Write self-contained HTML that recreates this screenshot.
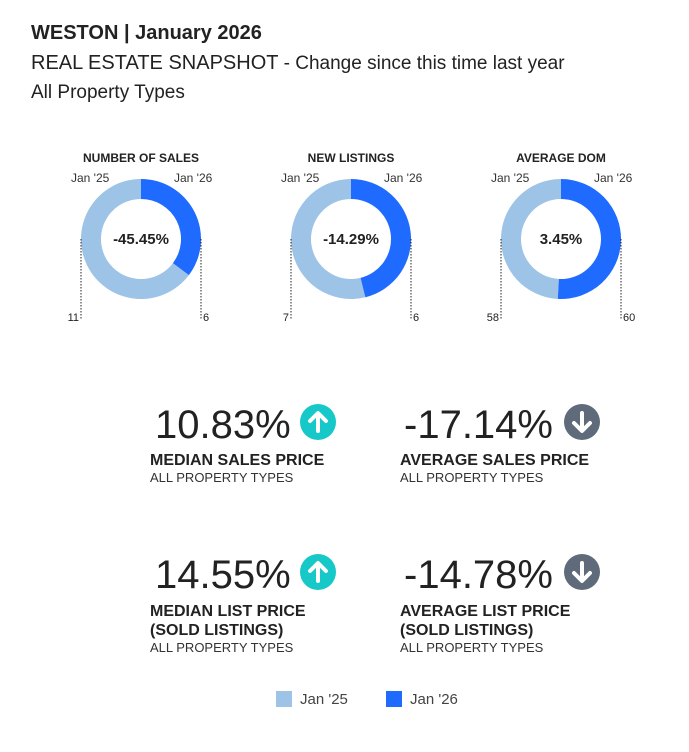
<!DOCTYPE html>
<html><head><meta charset="utf-8">
<style>
body{margin:0;width:689px;height:752px;background:#fff;font-family:"Liberation Sans",sans-serif;color:#222;position:relative;overflow:hidden}
.abs{position:absolute;white-space:nowrap}
.big{font-size:40px;color:#222}
.lbl{font-size:16px;font-weight:bold;color:#222}
.sub{font-size:13px;color:#333}
</style></head><body>
<div class="abs" style="left:31px;top:22px;font-size:20px;font-weight:bold">WESTON | January 2026</div>
<div class="abs" style="left:31px;top:52px;font-size:20px">REAL ESTATE SNAPSHOT <span style="font-size:19px">- Change since this time last year</span></div>
<div class="abs" style="left:31px;top:82px;font-size:19px">All Property Types</div>

<svg id="donuts" width="689" height="340" style="position:absolute;left:0;top:0"></svg>

<div class="abs big" style="left:155px;top:403px">10.83%</div>
<svg class="abs" style="left:300px;top:404px" width="36" height="36"><circle cx="18" cy="18" r="18" fill="#16c8c8"/><path d="M18 27V10M10 17l8-8 8 8" stroke="#fff" stroke-width="4" fill="none" stroke-linecap="round" stroke-linejoin="round"/></svg>
<div class="abs lbl" style="left:150px;top:452px">MEDIAN SALES PRICE</div>
<div class="abs sub" style="left:150px;top:470px">ALL PROPERTY TYPES</div>

<div class="abs big" style="left:404px;top:403px">-17.14%</div>
<svg class="abs" style="left:564px;top:404px" width="36" height="36"><circle cx="18" cy="18" r="18" fill="#5f6b7a"/><path d="M18 9v17M10 19l8 8 8-8" stroke="#fff" stroke-width="4" fill="none" stroke-linecap="round" stroke-linejoin="round"/></svg>
<div class="abs lbl" style="left:400px;top:452px">AVERAGE SALES PRICE</div>
<div class="abs sub" style="left:400px;top:470px">ALL PROPERTY TYPES</div>

<div class="abs big" style="left:155px;top:553px">14.55%</div>
<svg class="abs" style="left:300px;top:554px" width="36" height="36"><circle cx="18" cy="18" r="18" fill="#16c8c8"/><path d="M18 27V10M10 17l8-8 8 8" stroke="#fff" stroke-width="4" fill="none" stroke-linecap="round" stroke-linejoin="round"/></svg>
<div class="abs lbl" style="left:150px;top:602px;line-height:19px">MEDIAN LIST PRICE<br>(SOLD LISTINGS)</div>
<div class="abs sub" style="left:150px;top:640px">ALL PROPERTY TYPES</div>

<div class="abs big" style="left:404px;top:553px">-14.78%</div>
<svg class="abs" style="left:564px;top:554px" width="36" height="36"><circle cx="18" cy="18" r="18" fill="#5f6b7a"/><path d="M18 9v17M10 19l8 8 8-8" stroke="#fff" stroke-width="4" fill="none" stroke-linecap="round" stroke-linejoin="round"/></svg>
<div class="abs lbl" style="left:400px;top:602px;line-height:19px">AVERAGE LIST PRICE<br>(SOLD LISTINGS)</div>
<div class="abs sub" style="left:400px;top:640px">ALL PROPERTY TYPES</div>

<div class="abs" style="left:276px;top:691px;font-size:15px;color:#444"><span style="display:inline-block;width:16px;height:16px;background:#9dc3e6;vertical-align:-3px;margin-right:8px"></span>Jan '25</div>
<div class="abs" style="left:386px;top:691px;font-size:15px;color:#444"><span style="display:inline-block;width:16px;height:16px;background:#1f6bff;vertical-align:-3px;margin-right:8px"></span>Jan '26</div>

<script>
const titles=["NUMBER OF SALES","NEW LISTINGS","AVERAGE DOM"];
const prevVals=[11,7,58];
const currVals=[6,6,60];
const changes=["-45.45%","-14.29%","3.45%"];
const NS="http://www.w3.org/2000/svg";
const svg=document.getElementById('donuts');
function mk(t,a){const e=document.createElementNS(NS,t);for(const k in a)e.setAttribute(k,a[k]);svg.appendChild(e);return e;}
function pt(cx,cy,r,f){const a=f*2*Math.PI-Math.PI/2;return [cx+r*Math.cos(a),cy+r*Math.sin(a)];}
function arc(cx,cy,R,r,f0,f1){const l=(f1-f0)>0.5?1:0;const a=pt(cx,cy,R,f0),b=pt(cx,cy,R,f1),c=pt(cx,cy,r,f1),d=pt(cx,cy,r,f0);
return `M${a}A${R},${R} 0 ${l} 1 ${b}L${c}A${r},${r} 0 ${l} 0 ${d}Z`;}
const R=60,r=40,cy=239;
titles.forEach((t,i)=>{
 const cx=141+i*210;const tot=prevVals[i]+currVals[i];const f=currVals[i]/tot;
 let e=mk('text',{x:cx,y:162,'text-anchor':'middle','font-size':12,'font-weight':'bold',fill:'#222'});e.textContent=t;
 
 
 e=mk('text',{x:cx-70,y:182,'font-size':12,fill:'#333'});e.textContent="Jan '25";
 
 
 e=mk('text',{x:cx+33,y:182,'font-size':12,fill:'#333'});e.textContent="Jan '26";
 
 
 e=mk('path',{d:arc(cx,cy,R,r,f,1),fill:'#9dc3e6'});
 
 
 e=mk('path',{d:arc(cx,cy,R,r,0,f),fill:'#1f6bff'});
 
 
 e=mk('text',{x:cx,y:cy+5,'text-anchor':'middle','font-size':15,'font-weight':'bold',fill:'#222'});e.textContent=changes[i];
 
 
 mk('line',{x1:cx-R,y1:cy,x2:cx-R,y2:320,stroke:'#222','stroke-dasharray':'1.5,1.5'});
 mk('line',{x1:cx+R,y1:cy,x2:cx+R,y2:320,stroke:'#222','stroke-dasharray':'1.5,1.5'});
 e=mk('text',{x:cx-R-2,y:321,'text-anchor':'end','font-size':11,fill:'#222'});e.textContent=prevVals[i];
 
 
 e=mk('text',{x:cx+R+2,y:321,'font-size':11,fill:'#222'});e.textContent=currVals[i];
 
 
});
</script>
</body></html>
